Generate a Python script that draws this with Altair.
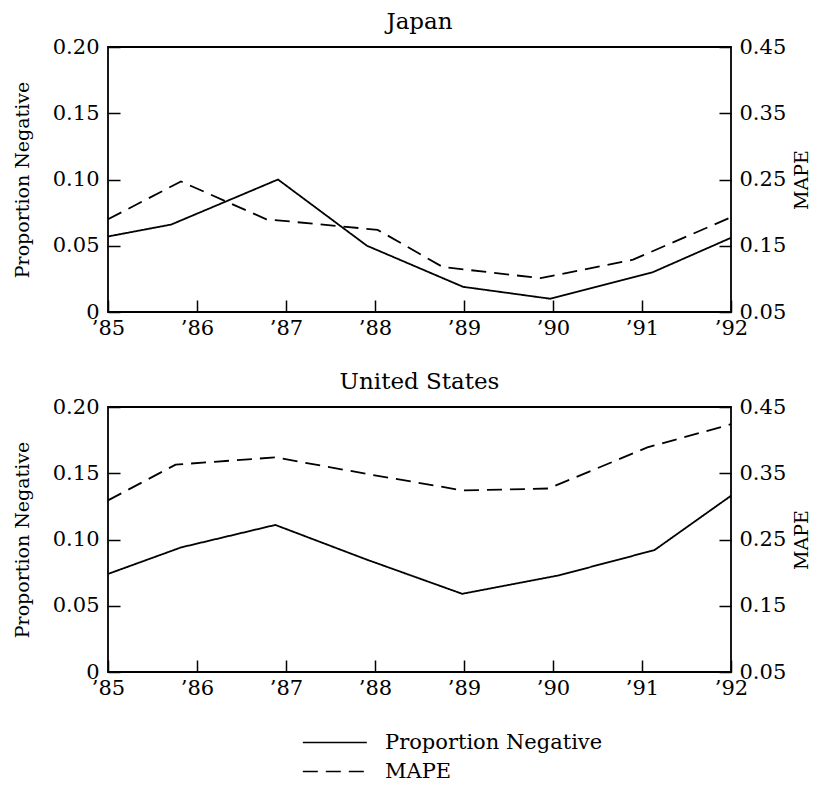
import altair as alt
import pandas as pd

# ---- data ----
jp_pn_x = [85.0, 85.71, 86.91, 87.91, 88.99, 89.97, 91.12, 92.0]
jp_pn = [0.057, 0.066, 0.100, 0.050, 0.019, 0.010, 0.030, 0.056]
jp_mape_x = [85.0, 85.82, 86.78, 88.03, 88.76, 89.86, 90.90, 92.0]
jp_mape = [0.190, 0.247, 0.190, 0.174, 0.118, 0.101, 0.129, 0.193]

us_pn_x = [85.0, 85.82, 86.88, 87.90, 88.98, 90.07, 91.14, 92.0]
us_pn = [0.074, 0.094, 0.111, 0.085, 0.059, 0.073, 0.092, 0.133]
us_mape_x = [85.0, 85.76, 86.88, 87.95, 88.99, 89.95, 91.06, 92.0]
us_mape = [0.309, 0.363, 0.374, 0.348, 0.324, 0.327, 0.389, 0.424]

years = [85, 86, 87, 88, 89, 90, 91, 92]
left_ticks = [0, 0.05, 0.10, 0.15, 0.20]
right_ticks = [0.05, 0.15, 0.25, 0.35, 0.45]
series_names = ["Proportion Negative", "MAPE"]

FONT = "DejaVu Serif"


def frame(xs, vs, series):
    return pd.DataFrame({"x": xs, "value": vs, "series": series})


dash_scale = alt.Scale(domain=series_names, range=[[1, 0], [15, 8]])
legend = alt.Legend(
    title=None, orient="none", legendX=194, legendY=684, direction="vertical",
    symbolType="M-1,0H5", symbolSize=455, symbolStrokeWidth=1.6,
    symbolStrokeColor="black", labelFont=FONT, labelFontSize=21,
    labelColor="black", labelOffset=60, labelLimit=400, rowPadding=7,
)

x_axis = alt.Axis(
    values=years, labelExpr="'\u2019' + datum.label", grid=False, domain=False,
    offset=-12, tickSize=12, tickColor="black", tickWidth=1.5,
    labelFont=FONT, labelFontSize=21, labelColor="black", labelPadding=5,
    labelFlush=False, title=None,
)


def panel(title, pn_x, pn, mp_x, mp):
    d1 = frame(pn_x, pn, series_names[0])
    d2 = frame(mp_x, mp, series_names[1])
    xenc = alt.X("x:Q", scale=alt.Scale(domain=[85, 92], nice=False, zero=False), axis=x_axis)
    left = alt.Chart(d1).mark_line(color="black", strokeWidth=1.8).encode(
        x=xenc,
        y=alt.Y("value:Q", scale=alt.Scale(domain=[0, 0.2], nice=False),
                axis=alt.Axis(orient="left", values=left_ticks,
                              labelExpr="datum.value == 0 ? '0' : format(datum.value, '.2f')",
                              grid=False, domain=False, offset=-12, tickSize=12,
                              tickColor="black", tickWidth=1.5, labelFont=FONT,
                              labelFontSize=21, labelColor="black", labelPadding=9,
                              title="Proportion Negative", titleFont=FONT,
                              titleFontSize=19, titleFontWeight="normal",
                              titleColor="black", titlePadding=20)),
        strokeDash=alt.StrokeDash("series:N", scale=dash_scale, legend=legend),
    )
    right = alt.Chart(d2).mark_line(color="black", strokeWidth=1.8).encode(
        x=xenc,
        y=alt.Y("value:Q", scale=alt.Scale(domain=[0.05, 0.45], nice=False, zero=False),
                axis=alt.Axis(orient="right", values=right_ticks, format=".2f",
                              grid=False, domain=False, offset=-12, tickSize=12,
                              tickColor="black", tickWidth=1.5, labelFont=FONT,
                              labelFontSize=21, labelColor="black", labelPadding=8,
                              title="MAPE", titleFont=FONT, titleFontSize=19,
                              titleFontWeight="normal", titleColor="black",
                              titleAngle=270, titleBaseline="top", titlePadding=7)),
        strokeDash=alt.StrokeDash("series:N", scale=dash_scale, legend=legend),
    )
    return alt.layer(left, right).resolve_scale(y="independent").properties(
        width=623, height=265,
        title=alt.TitleParams(title, font=FONT, fontSize=23, fontWeight="normal",
                              color="black", anchor="middle", offset=2),
    )


chart = alt.vconcat(
    panel("Japan", jp_pn_x, jp_pn, jp_mape_x, jp_mape),
    panel("United States", us_pn_x, us_pn, us_mape_x, us_mape),
    spacing=31,
).properties(
    padding={"left": 4, "top": 2, "right": 0, "bottom": 0},
    background="white",
).configure_view(
    stroke="black", strokeWidth=1.8
)

chart.save("out.html", embed_options={"renderer": "svg", "actions": False})
